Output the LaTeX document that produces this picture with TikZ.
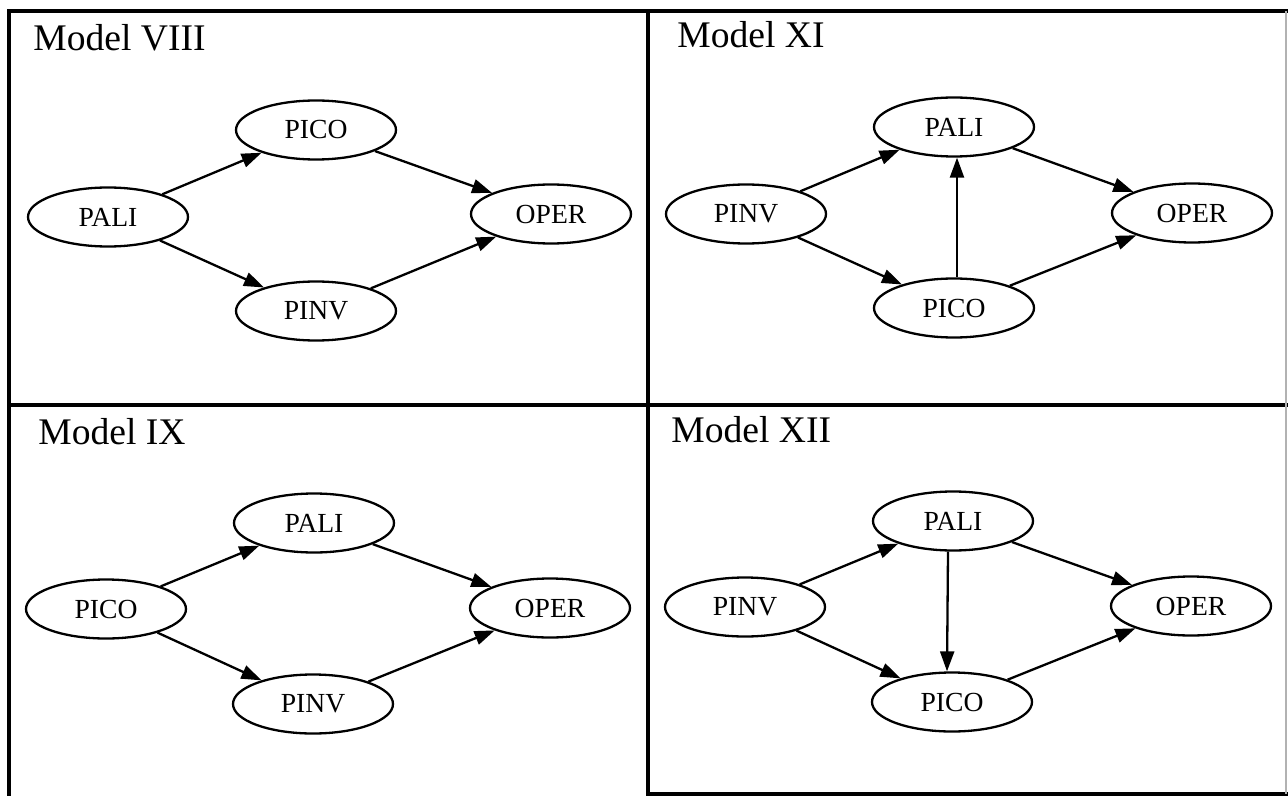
\documentclass[tikz,border=0pt]{standalone}
\usepackage{fontspec}
\setmainfont{Liberation Serif}
\usetikzlibrary{arrows.meta,shapes.geometric}
\tikzset{
  var/.style={ellipse, draw, line width=1.15pt, minimum width=80pt, minimum height=29.5pt,
    inner sep=0pt, font=\fontsize{13.8}{16}\selectfont},
  link/.style={line width=1.15pt, -{Triangle[length=10pt,width=7pt]}},
  panelrule/.style={line width=1.6pt},
  paneltitle/.style={anchor=base west, inner sep=0pt, font=\fontsize{18.8}{22}\selectfont},
}
\begin{document}
\begin{tikzpicture}[x=0.5pt,y=-0.5pt]
\useasboundingbox (0,0) rectangle (1288,796);

% grid of the four panels
\draw[panelrule] (9,796) -- (9,11) -- (1288,11);
\draw[panelrule] (648,11) -- (648,796);
\draw[panelrule] (9,405) -- (1288,405);
\draw[panelrule] (648,794) -- (1288,794);
\draw[line width=0.6pt, gray!60] (1286,11) -- (1286,794);

% Model VIII
\node[paneltitle] (t8) at (33,51) {Model VIII};
\node[var] (a8pali) at (108,217) {PALI};
\node[var] (a8pico) at (316,130) {PICO};
\node[var] (a8pinv) at (316,311) {PINV};
\node[var] (a8oper) at (551,214) {OPER};
\draw[link] (a8pali) -- (a8pico);
\draw[link] (a8pali) -- (a8pinv);
\draw[link] (a8pico) -- (a8oper);
\draw[link] (a8pinv) -- (a8oper);

% Model XI
\node[paneltitle] (t11) at (677,48) {Model XI};
\node[var] (b11pinv) at (746,214) {PINV};
\node[var] (b11pali) at (954,127) {PALI};
\node[var] (b11pico) at (954,308) {PICO};
\node[var] (b11oper) at (1192,213) {OPER};
\draw[link] (b11pinv) -- (b11pali);
\draw[link] (b11pinv) -- (b11pico);
\draw[link] ([xshift=1.5pt]b11pico.north) -- ([xshift=1.5pt]b11pali.south);
\draw[link] (b11pali) -- (b11oper);
\draw[link] (b11pico) -- (b11oper);

% Model IX
\node[paneltitle] (t9) at (38,444) {Model IX};
\node[var] (c9pico) at (106,609) {PICO};
\node[var] (c9pali) at (314,523) {PALI};
\node[var] (c9pinv) at (313,704) {PINV};
\node[var] (c9oper) at (550,608) {OPER};
\draw[link] (c9pico) -- (c9pali);
\draw[link] (c9pico) -- (c9pinv);
\draw[link] (c9pali) -- (c9oper);
\draw[link] (c9pinv) -- (c9oper);

% Model XII
\node[paneltitle] (t12) at (671,442) {Model XII};
\node[var] (d12pinv) at (745,607) {PINV};
\node[var] (d12pali) at (953,521) {PALI};
\node[var] (d12pico) at (952,702) {PICO};
\node[var] (d12oper) at (1191,606) {OPER};
\draw[link] (d12pinv) -- (d12pali);
\draw[link] (d12pinv) -- (d12pico);
\draw[link] ([xshift=-2.5pt]d12pali.south) -- ([xshift=-2.5pt]d12pico.north);
\draw[link] (d12pali) -- (d12oper);
\draw[link] (d12pico) -- (d12oper);
\end{tikzpicture}
\end{document}
